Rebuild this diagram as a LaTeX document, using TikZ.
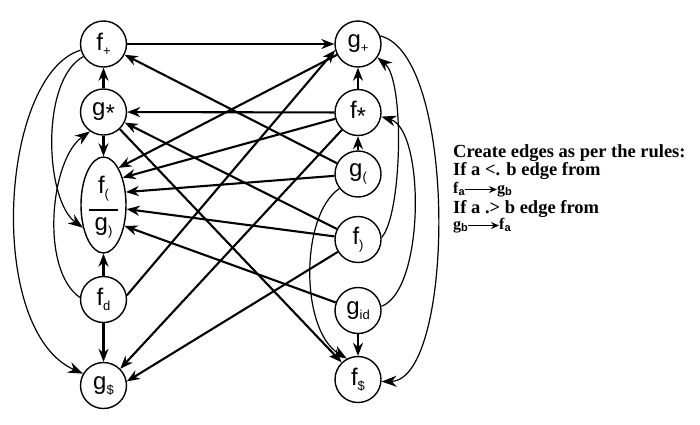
\documentclass[tikz,border=0pt]{standalone}
\usepackage{fontspec}
\setmainfont{Liberation Serif}
\newfontfamily\labfont{Liberation Sans}
\newfontfamily\notefont{Liberation Serif}
\usetikzlibrary{arrows.meta,shapes.geometric}
\newcommand\nl[2]{{\labfont\fontsize{24}{24}\selectfont #1\raisebox{-5pt}{\fontsize{13}{13}\selectfont #2}}}
\newcommand\nstar[1]{{\labfont\fontsize{24}{24}\selectfont #1\raisebox{-6pt}{*}}}
\newcommand\sbs[1]{\raisebox{-2pt}{\labfont\fontsize{11}{11}\selectfont #1}}
\tikzset{
  circ/.style={circle, draw, line width=1.4pt, minimum size=46pt, inner sep=0pt},
  ell/.style={ellipse, draw, line width=1.4pt, minimum width=45pt, minimum height=96pt, inner sep=0pt},
  lab/.style={inner sep=0pt},
  edge/.style={line width=2.1pt, -{Stealth[length=13pt,width=10pt]}},
  curve/.style={line width=1.2pt, -{Stealth[length=15pt,width=11pt]}},
  note/.style={font=\notefont\bfseries\fontsize{18.5}{20}\selectfont, inner sep=0pt, anchor=base west},
  sm/.style={font=\notefont\bfseries\fontsize{16}{16}\selectfont, inner sep=0pt, text height=10pt, text depth=3pt},
  smarrow/.style={line width=1.8pt, -{Stealth[length=8pt,width=7pt]}},
}
\begin{document}
\begin{tikzpicture}[x=1pt,y=-1pt]
\useasboundingbox (0,0) rectangle (700,424);
% left column
\node[circ] (fp) at (103.5,44) {\nl{f}{+}};
\node[circ] (gs) at (103.5,112) {\nstar{g}};
\node[ell] (fg) at (103.5,205) {};
\node[lab] (fgtop) at (103.5,189) {\nl{f}{(}};
\node[lab] (fgbot) at (103.5,228) {\nl{g}{)}};
\draw[line width=1.4pt] (89,210) -- (118,210);
\node[circ] (fd) at (103.5,299.5) {\nl{f}{d}};
\node[circ] (gd) at (103.5,385.5) {\nl{g}{\$}};
% right column
\node[circ] (gp) at (358,44) {\nl{g}{+}};
\node[circ] (fs) at (358,112.5) {\nstar{f}};
\node[circ] (gl) at (358,174) {\nl{g}{(}};
\node[circ] (fr) at (358,239.5) {\nl{f}{)}};
\node[circ] (gi) at (358,310.5) {\nl{g}{id}};
\node[circ] (fdl) at (358,379.5) {\nl{f}{\$}};
% vertical edges
\draw[edge] (gs) -- (fp);
\draw[edge] (gs) -- (fg);
\draw[edge] (fd) -- (fg);
\draw[edge] (fd) -- (gd);
\draw[edge] (fs) -- (gp);
\draw[edge] (gl) -- (fs);
\draw[edge] (gi) -- (fdl);
% cross edges
\draw[edge] (fp) -- (gp);
\draw[edge] (gp) -- (fg.68);
\draw[edge] (fd.10) -- (gp.195);
\draw[edge] (fs) -- (gs);
\draw[edge] (fs) -- (fg.55);
\draw[edge] (fs) -- (gd.45);
\draw[edge] (gl) -- (fp);
\draw[edge] (gl) -- (fg.30);
\draw[edge] (gs) -- (fdl);
\draw[edge] (fr) -- (gs);
\draw[edge] (fr) -- (fg.-10);
\draw[edge] (fr) -- (gd.10);
\draw[edge] (gi) -- (fg.-45);
% left curves
\draw[curve] (fp.195) .. controls (0,75) and (-15,330) .. (gd.150);
\draw[curve] (fp.212) .. controls (40,80) and (45,200) .. (fg.228);
\draw[curve] (fd.175) .. controls (40,270) and (50,160) .. (gs.235);
% right curves
\draw[curve] (gl.218) .. controls (300,215) and (300,330) .. (fdl.118);
\draw[curve] (fr.5) .. controls (402,215) and (405,80) .. (gp.-35);
\draw[curve] (gi.10) .. controls (425,290) and (425,130) .. (fs.-10);
\draw[curve] (gp.20) .. controls (458,55) and (455,380) .. (fdl.-5);
% rules text
\node[note] (t1) at (453,157) {Create edges as per the rules:};
\node[note] (t2) at (453,175) {If a <. b edge from};
\node[sm, anchor=base west] (fa) at (453,193) {f\sbs{a}};
\node[sm, anchor=base west] (gb) at (497,193) {g\sbs{b}};
\draw[smarrow] (fa.east) -- (gb.west);
\node[note] (t4) at (453,213) {If a .> b edge from};
\node[sm, anchor=base west] (gb2) at (453,229) {g\sbs{b}};
\node[sm, anchor=base west] (fa2) at (499,229) {f\sbs{a}};
\draw[smarrow] (gb2.east) -- (fa2.west);
\end{tikzpicture}
\end{document}
